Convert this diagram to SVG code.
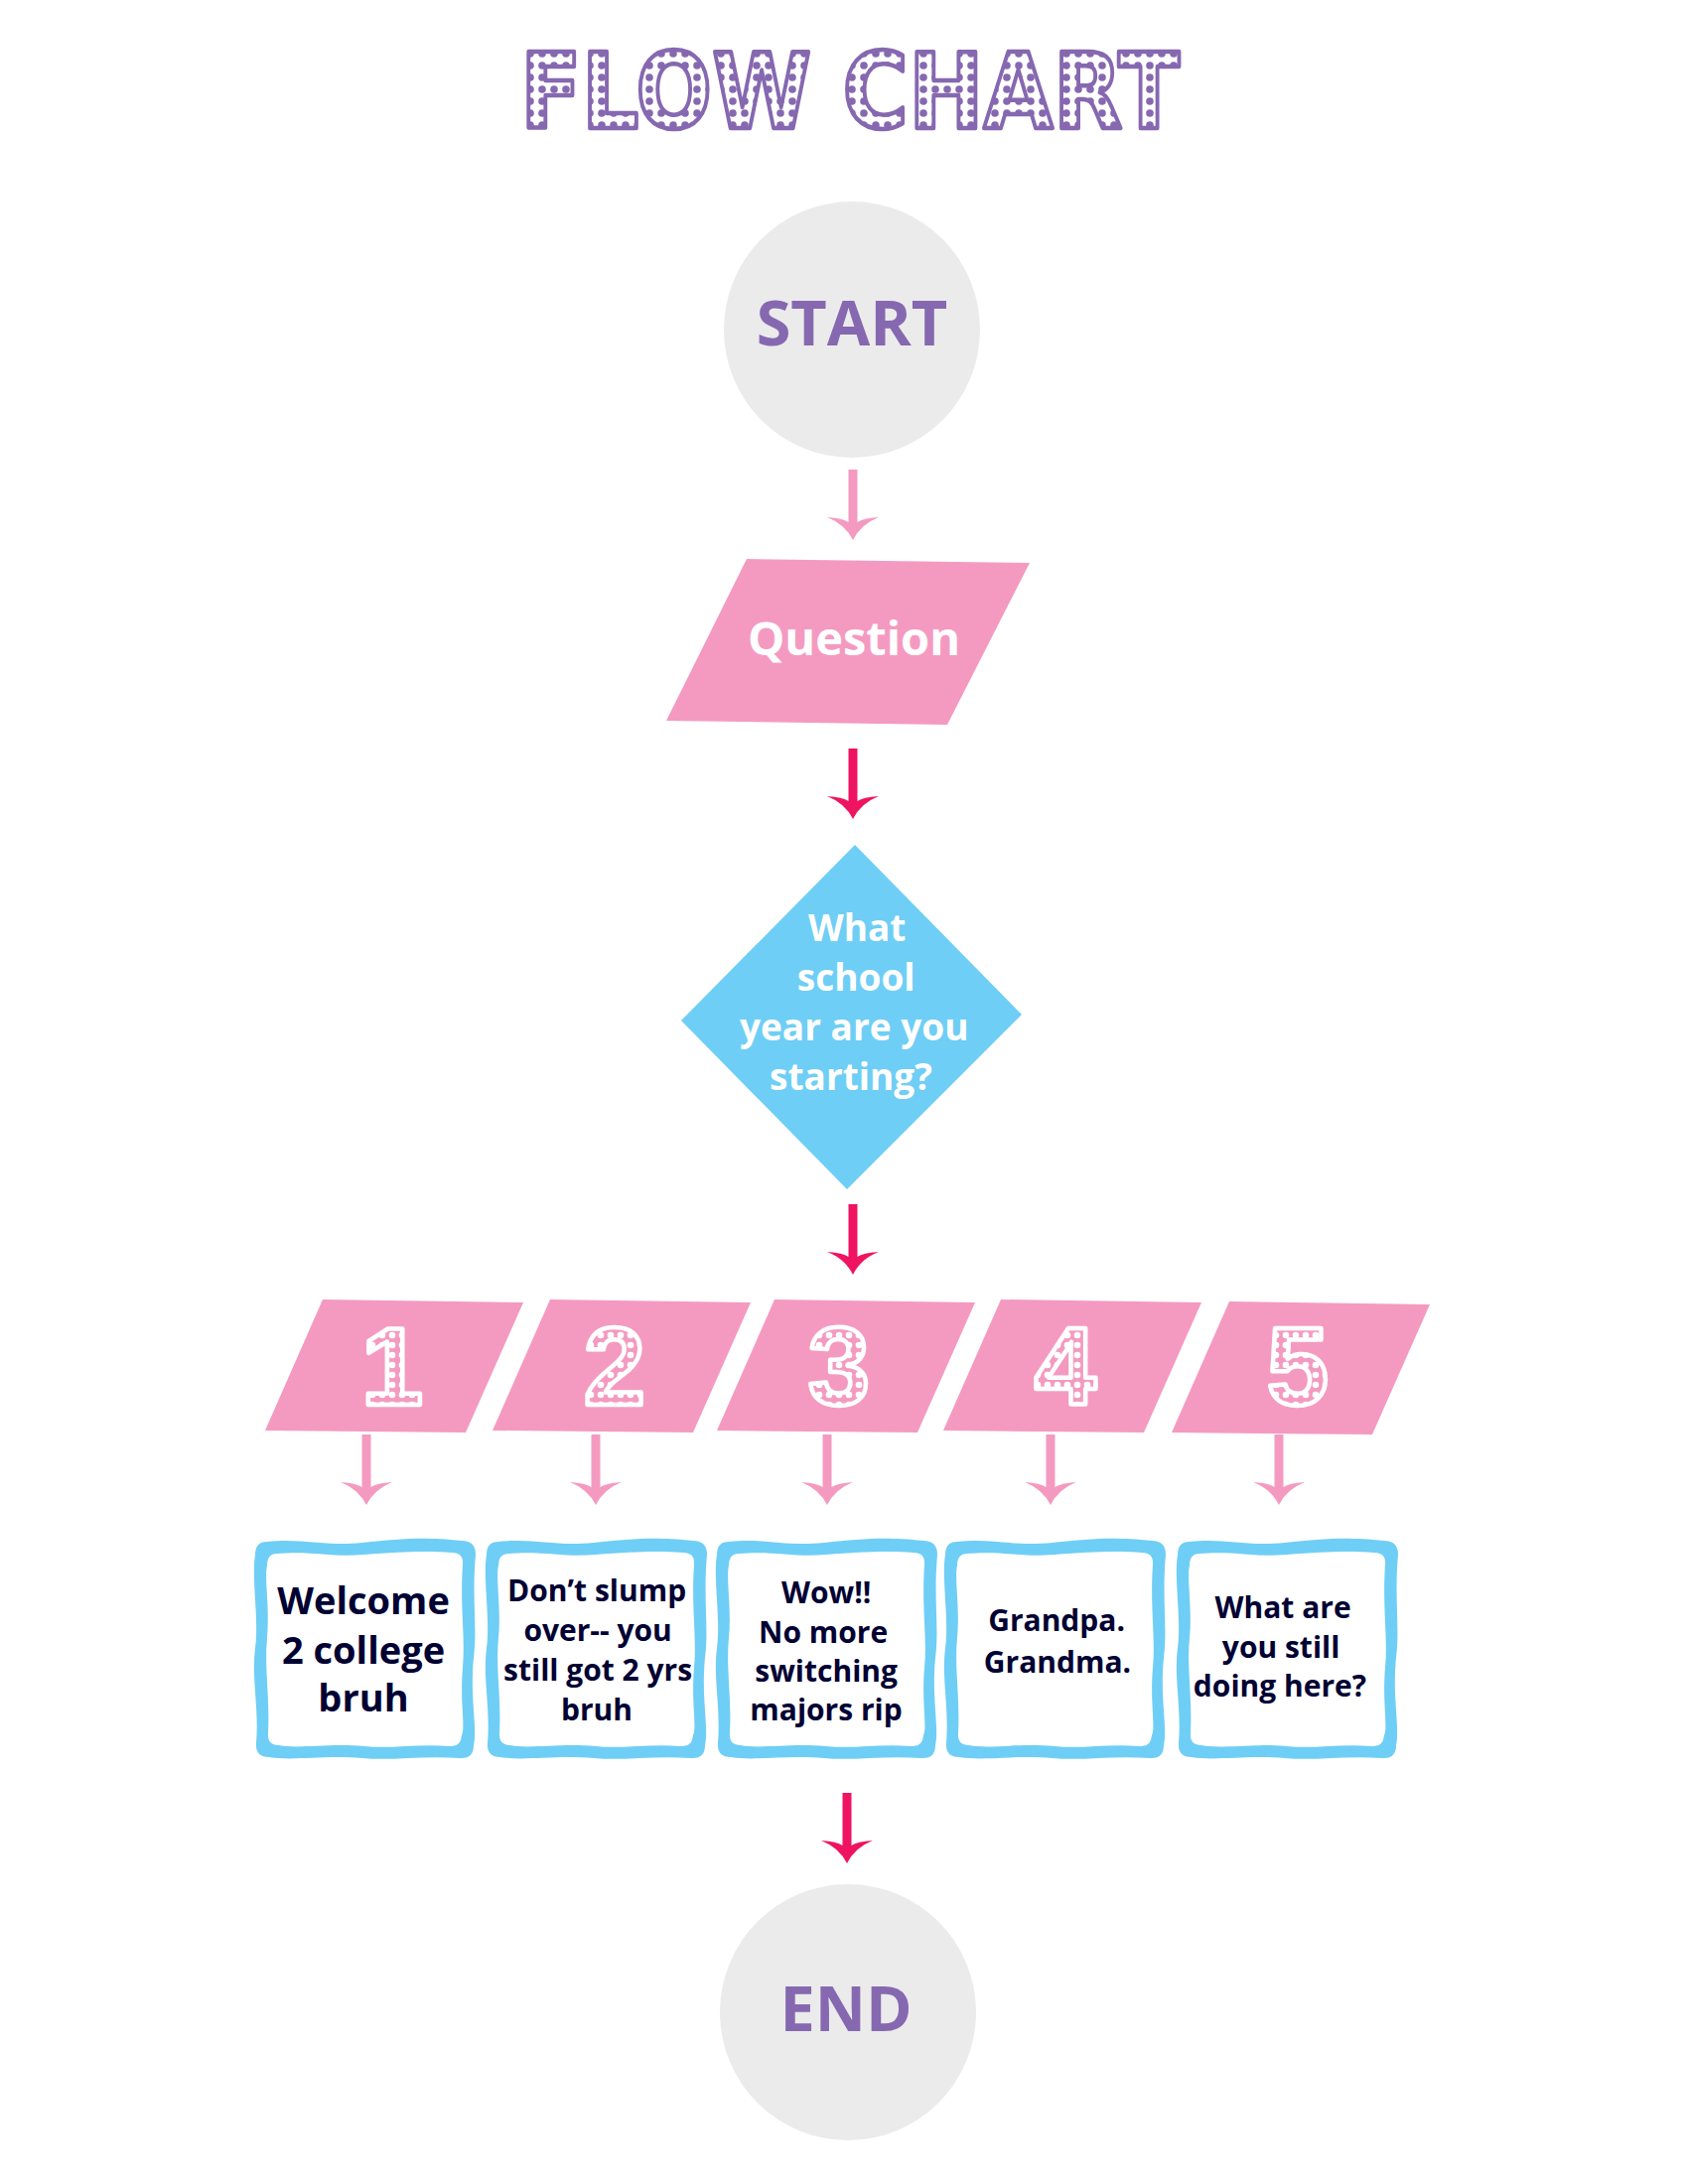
<svg xmlns="http://www.w3.org/2000/svg" width="1700" height="2200" viewBox="0 0 1700 2200">
  <style>
    .lbl { font-family: "Open Sans", "Noto Sans", "DejaVu Sans", sans-serif; font-weight: bold; text-anchor: middle; }
    .term { fill: #EBEBEB; }
    .termtxt { fill: #8668B0; font-size: 63px; }
    .pink { fill: #F49AC1; }
    .white { fill: #FFFFFF; }
    .blue { fill: #6FCEF5; }
    .navy { fill: #000033; }
    .pale { fill: #F49AC1; }
    .red { fill: #EE1461; }
    .digit { font-family: "Liberation Sans", Arial, sans-serif; font-weight: bold; font-size: 112px; text-anchor: middle; fill: url(#wdots); stroke: #FFFFFF; stroke-width: 4.5; stroke-linejoin: round; }
    .boxtxt { font-size: 30px; }
  </style>
  <defs>
    <pattern id="pdots" width="12" height="12" patternUnits="userSpaceOnUse">
      <rect width="12" height="12" fill="#FFFFFF"/>
      <circle cx="6" cy="6" r="3.8" fill="#8668B0"/>
    </pattern>
    <pattern id="wdots" width="10" height="10" patternUnits="userSpaceOnUse">
      <circle cx="5" cy="5" r="3.3" fill="#FFFFFF"/>
    </pattern>
    <path id="arrow" d="M -4.5,-71 H 4.5 V -18 Q 10,-22 26,-23 Q 8,-16 0,0 Q -8,-16 -26,-23 Q -10,-22 -4.5,-18 Z"/>
    <polygon id="para" points="0,0 202,3 144,134 -58,132"/>
    <path id="frameOuter" d="M 14,3 C 50,-1 70,8 110,4 C 150,0 170,-2 210,2 Q 224,2 224,16 C 220,60 226,90 222,120 C 218,160 226,190 222,208 Q 222,222 208,221 C 170,218 140,224 110,221 C 70,218 40,224 16,220 Q 2,220 3,206 C 6,170 -2,140 2,110 C 6,80 -2,40 2,16 Q 2,3 14,3 Z"/>
    <path id="frameInner" d="M 24,15 C 60,12 80,19 112,16 C 150,13 175,12 200,14 Q 212,14 211,26 C 208,70 214,100 211,130 C 208,165 214,190 210,198 Q 209,210 198,209 C 165,206 140,212 112,209 C 75,206 45,212 26,208 Q 14,208 15,196 C 17,160 11,130 14,100 C 17,70 11,40 14,27 Q 14,15 24,15 Z"/>
  </defs>

  <rect width="1700" height="2200" fill="#FFFFFF"/>

  <g id="title">
    <text x="524" y="129" font-family="DejaVu Sans, sans-serif" font-weight="bold" font-size="106" textLength="664" lengthAdjust="spacingAndGlyphs" fill="url(#pdots)" stroke="#8668B0" stroke-width="4.5" stroke-linejoin="round">FLOW CHART</text>
  </g>

  <g id="connectors">
    <use href="#arrow" class="pale" transform="translate(859,544)"/>
    <use href="#arrow" class="red" transform="translate(859,825)"/>
    <use href="#arrow" class="red" transform="translate(859,1284)"/>
    <use href="#arrow" class="pale" transform="translate(369,1516)"/>
    <use href="#arrow" class="pale" transform="translate(600,1516)"/>
    <use href="#arrow" class="pale" transform="translate(833,1516)"/>
    <use href="#arrow" class="pale" transform="translate(1058,1516)"/>
    <use href="#arrow" class="pale" transform="translate(1288,1516)"/>
    <use href="#arrow" class="red" transform="translate(853,1877)"/>
  </g>

  <g id="start">
    <circle class="term" cx="858" cy="332" r="129"/>
    <text class="lbl termtxt" x="858" y="348">START</text>
  </g>

  <g id="question">
    <polygon class="pink" points="752,563 1037,567 954,730 671,726"/>
    <text class="lbl white" x="860" y="660" font-size="47">Question</text>
  </g>

  <g id="decision">
    <polygon class="blue" points="861,851 1029,1022 853,1198 686,1028"/>
    <text class="lbl white" font-size="37">
      <tspan x="868" y="948">What</tspan>
      <tspan x="867" y="998">school</tspan>
      <tspan x="865" y="1048">year are you</tspan>
      <tspan x="857" y="1098">starting?</tspan>
    </text>
  </g>

  <g id="year1">
    <use href="#para" class="pink" transform="translate(325,1309)"/>
    <text class="digit" x="395" y="1415">1</text>
  </g>
  <g id="year2">
    <use href="#para" class="pink" transform="translate(554,1309)"/>
    <text class="digit" x="619" y="1415">2</text>
  </g>
  <g id="year3">
    <use href="#para" class="pink" transform="translate(780,1309)"/>
    <text class="digit" x="845" y="1415">3</text>
  </g>
  <g id="year4">
    <use href="#para" class="pink" transform="translate(1008,1309)"/>
    <text class="digit" x="1073" y="1415">4</text>
  </g>
  <g id="year5">
    <use href="#para" class="pink" transform="translate(1238,1311)"/>
    <text class="digit" x="1307" y="1415">5</text>
  </g>

  <g id="answer1">
    <use href="#frameOuter" class="blue" transform="translate(255,1550)"/>
    <use href="#frameInner" class="white" transform="translate(255,1550)"/>
    <text class="lbl navy" font-size="38">
      <tspan x="371" y="1626">Welcome</tspan>
      <tspan x="371" y="1676">2 college</tspan>
      <tspan x="366" y="1724">bruh</tspan>
    </text>
  </g>
  <g id="answer2">
    <use href="#frameOuter" class="blue" transform="translate(488,1550)"/>
    <use href="#frameInner" class="white" transform="translate(488,1550)"/>
    <text class="lbl navy boxtxt">
      <tspan x="605" y="1613">Don’t slump</tspan>
      <tspan x="606" y="1653">over-- you</tspan>
      <tspan x="606" y="1693">still got 2 yrs</tspan>
      <tspan x="601" y="1733">bruh</tspan>
    </text>
  </g>
  <g id="answer3">
    <use href="#frameOuter" class="blue" transform="translate(720,1550)"/>
    <use href="#frameInner" class="white" transform="translate(720,1550)"/>
    <text class="lbl navy boxtxt">
      <tspan x="836" y="1615">Wow!!</tspan>
      <tspan x="833" y="1655">No more</tspan>
      <tspan x="836" y="1694">switching</tspan>
      <tspan x="832" y="1733">majors rip</tspan>
    </text>
  </g>
  <g id="answer4">
    <use href="#frameOuter" class="blue" transform="translate(950,1550)"/>
    <use href="#frameInner" class="white" transform="translate(950,1550)"/>
    <text class="lbl navy boxtxt">
      <tspan x="1068" y="1643">Grandpa.</tspan>
      <tspan x="1065" y="1685">Grandma.</tspan>
    </text>
  </g>
  <g id="answer5">
    <use href="#frameOuter" class="blue" transform="translate(1184,1550)"/>
    <use href="#frameInner" class="white" transform="translate(1184,1550)"/>
    <text class="lbl navy boxtxt">
      <tspan x="1296" y="1630">What are</tspan>
      <tspan x="1294" y="1670">you still</tspan>
      <tspan x="1289" y="1709">doing here?</tspan>
    </text>
  </g>

  <g id="end">
    <circle class="term" cx="854" cy="2027" r="129"/>
    <text class="lbl termtxt" x="852" y="2046" font-size="64">END</text>
  </g>
</svg>
